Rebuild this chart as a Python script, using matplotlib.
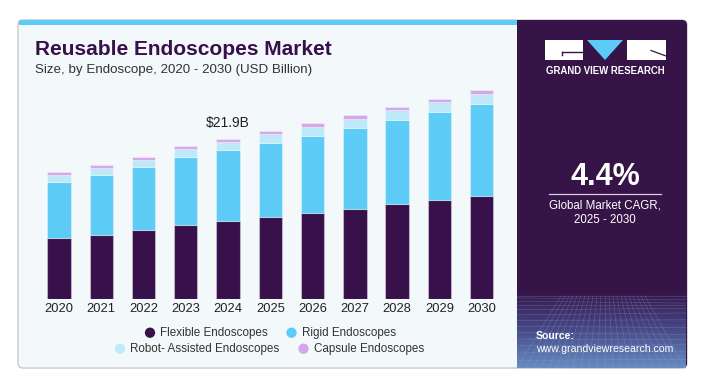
import matplotlib
matplotlib.use('Agg')
import matplotlib.pyplot as plt
from matplotlib.patches import FancyBboxPatch, Rectangle, Polygon
import numpy as np

plt.rcParams['font.family'] = ['Liberation Sans', 'DejaVu Sans']

# data (USD Billion)
years = ['2020', '2021', '2022', '2023', '2024', '2025', '2026', '2027', '2028', '2029', '2030']
flexible = [8.32, 8.81, 9.45, 10.17, 10.68, 11.22, 11.81, 12.36, 13.00, 13.54, 14.13]
rigid = [7.72, 8.14, 8.63, 9.23, 9.68, 10.13, 10.50, 11.05, 11.50, 12.00, 12.50]
robot = [0.91, 0.91, 0.91, 1.05, 1.09, 1.15, 1.23, 1.23, 1.28, 1.32, 1.36]
capsule = [0.37, 0.45, 0.45, 0.45, 0.45, 0.45, 0.50, 0.50, 0.45, 0.49, 0.55]
series_names = ['Flexible Endoscopes', 'Rigid Endoscopes', 'Robot- Assisted Endoscopes', 'Capsule Endoscopes']
highlight_year = '2024'
highlight_label = '$21.9B'
cagr = '4.4%'

colors = {
    'flex': '#38114a',
    'rigid': '#5ccbf5',
    'robot': '#bde9f9',
    'capsule': '#d4a7e9',
    'panel': '#371447',
    'card': '#f3f8fb',
    'title': '#38114a',
}

W, H = 706, 370
fig = plt.figure(figsize=(W / 100, H / 100), dpi=100)

# background axes in pixel coordinates
bg = fig.add_axes([0, 0, 1, 1])
bg.set_xlim(0, W)
bg.set_ylim(H, 0)
bg.axis('off')

card = FancyBboxPatch((18, 20), 669, 348, boxstyle="round,pad=0,rounding_size=5",
                      facecolor=colors['card'], edgecolor='#c9c9c9', linewidth=1)
bg.add_patch(card)
bg.add_patch(Rectangle((19, 20), 498, 5, facecolor=colors['rigid'], edgecolor='none'))

# right panel
panel = FancyBboxPatch((517, 20), 170, 348, boxstyle="round,pad=0,rounding_size=5",
                       facecolor=colors['panel'], edgecolor='none')
bg.add_patch(panel)
bg.add_patch(Rectangle((517, 20), 10, 348, facecolor=colors['panel'], edgecolor='none'))

# bluish gradient mesh at the bottom of the panel
grad = np.linspace(0, 1, 80)[:, None]
cmap = matplotlib.colors.LinearSegmentedColormap.from_list('m', [colors['panel'], '#4a4f8e', '#6c9ad0'])
bg.imshow(grad, extent=(517, 686, 368, 290), cmap=cmap, aspect='auto', zorder=2, alpha=0.9)
for k in range(14):
    yy = 296 + 72 * (k / 13) ** 1.4
    bg.plot([517, 686], [yy, yy + 2 * np.sin(k)], color='#8fb0e0', lw=0.4, alpha=0.35, zorder=3)
for k in range(22):
    x0 = 517 + k * 8
    bg.plot([605 + (x0 - 605) * 0.5, x0], [296, 368], color='#8fb0e0', lw=0.4, alpha=0.35, zorder=3)

# logo
bg.add_patch(Rectangle((545, 40), 38, 20, facecolor='white', edgecolor='none', zorder=4))
bg.plot([562, 583], [51.5, 51.5], color=colors['panel'], lw=1, zorder=5)
bg.plot([562, 562], [51.5, 55], color=colors['panel'], lw=1, zorder=5)
bg.add_patch(Polygon([(587, 40), (623, 40), (605, 60)], closed=True,
                     facecolor=colors['rigid'], edgecolor='none', zorder=4))
bg.add_patch(Rectangle((627, 40), 39, 20, facecolor='white', edgecolor='none', zorder=4))
bg.plot([651, 666], [50.5, 56], color=colors['panel'], lw=0.9, zorder=5)
bg.text(605, 71, 'GRAND VIEW RESEARCH', color='white', fontsize=6.9, fontweight='bold',
        ha='center', va='center', zorder=5)

bg.text(605, 177, cagr, color='white', fontsize=22, fontweight='bold', ha='center', va='center', zorder=5)
bg.plot([549, 661], [193.5, 193.5], color='#d8cbe0', lw=0.9, zorder=5)
bg.text(605, 206, 'Global Market CAGR,', color='white', fontsize=8.3, ha='center', va='center', zorder=5)
bg.text(605, 220, '2025 - 2030', color='white', fontsize=8.3, ha='center', va='center', zorder=5)
bg.text(536, 336, 'Source:', color='white', fontsize=7.6, fontweight='bold', ha='left', va='center', zorder=5)
bg.text(536, 349.5, 'www.grandviewresearch.com', color='white', fontsize=7.6, ha='left', va='center', zorder=5)

# titles
bg.text(35, 49.5, 'Reusable Endoscopes Market', color=colors['title'], fontsize=15,
        fontweight='heavy', ha='left', va='center')
bg.text(35, 70, 'Size, by Endoscope, 2020 - 2030 (USD Billion)', color='#333333', fontsize=9.6,
        ha='left', va='center')

# bar chart axes, mapped so that bar i is centred at x = 59 + 42.27 * i px
px_left, px_right, px_top, px_base = 30, 510, 80, 299.3
step, y_scale = 42.27, 7.333
ax = fig.add_axes([px_left / W, (H - px_base) / H, (px_right - px_left) / W, (px_base - px_top) / H])
ax.set_xlim((px_left - 59) / step, (px_right - 59) / step)
ax.set_ylim(0, (px_base - px_top) / y_scale)
ax.patch.set_alpha(0)

x = np.arange(len(years))
bw = 0.553
edge = (1, 1, 1, 0.35)
flex = np.array(flexible)
rig = np.array(rigid)
rob = np.array(robot)
cap = np.array(capsule)
ax.bar(x, flex, bw, color=colors['flex'], edgecolor=edge, linewidth=0.8)
ax.bar(x, rig, bw, bottom=flex, color=colors['rigid'], edgecolor=edge, linewidth=0.8)
ax.bar(x, rob, bw, bottom=flex + rig, color=colors['robot'], edgecolor=edge, linewidth=0.8)
ax.bar(x, cap, bw, bottom=flex + rig + rob, color=colors['capsule'], edgecolor=edge, linewidth=0.8)

hi = years.index(highlight_year)
total = (flex + rig + rob + cap)[hi]
ax.text(x[hi], total + 2.1, highlight_label, ha='center', va='center', fontsize=10, color='#222222')

ax.set_xticks(x)
ax.set_xticklabels(years, fontsize=9.3, color='#222222')
ax.tick_params(axis='x', length=0, pad=3)
ax.set_yticks([])
for s in ax.spines.values():
    s.set_visible(False)

# legend
legend_items = [
    (150, 332.7, colors['flex'], series_names[0]),
    (291.5, 332.7, colors['rigid'], series_names[1]),
    (120, 348.7, colors['robot'], series_names[2]),
    (303.5, 348.7, colors['capsule'], series_names[3]),
]
for lx, ly, c, name in legend_items:
    bg.scatter([lx], [ly], s=55, color=c, edgecolor='none', zorder=5)
    bg.text(lx + 10.5, ly, name, fontsize=8.4, color='#333333', ha='left', va='center')

fig.savefig('out.png', dpi=100, facecolor='white')
